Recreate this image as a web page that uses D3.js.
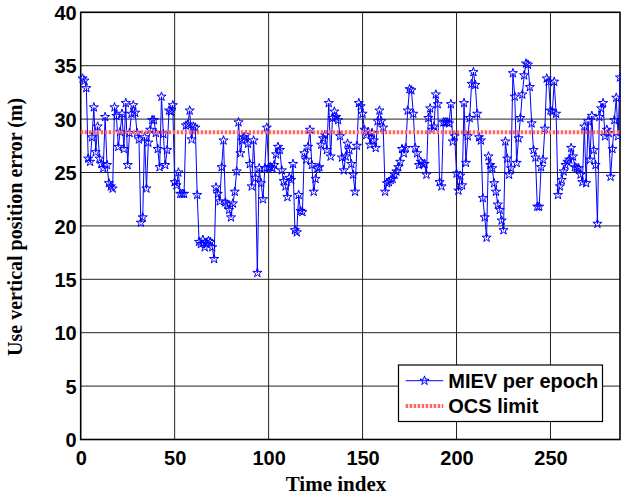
<!DOCTYPE html>
<html><head><meta charset="utf-8">
<script src="https://cdn.jsdelivr.net/npm/d3@7"></script>
<style>body{margin:0;background:#fff}svg{display:block}</style>
</head><body>
<svg id="c" width="621" height="497"></svg>
<script>
const xTicks = [0, 50, 100, 150, 200, 250];
const yTicks = [0, 5, 10, 15, 20, 25, 30, 35, 40];
const ocsLimit = 28.76;
const seriesNames = ["MIEV per epoch", "OCS limit"];
const miev = [
33.8,33.6,32.9,26.3,26.0,28.3,31.1,26.9,29.3,26.3,25.8,25.4,30.2,25.7,24.0,23.7,23.5,31.1,30.3,27.4,
28.8,30.5,27.2,31.5,25.7,28.7,30.5,31.3,30.6,28.7,28.1,20.3,20.8,
28.3,23.5,27.8,29.0,29.9,29.9,28.7,27.2,25.5,32.1,28.6,25.7,27.1,30.8,30.7,31.3,24.1,23.8,25.0,23.0,
23.0,23.0,29.4,29.5,30.8,28.1,29.3,29.2,22.9,18.5,18.3,18.7,
18.0,18.3,18.6,18.5,18.0,16.9,23.6,23.0,22.3,25.5,28.0,22.2,22.0,21.5,20.8,22.1,23.2,25.1,29.7,26.8,
28.0,28.3,28.5,27.7,25.8,23.7,28.0,24.5,15.6,25.4,24.0,22.5,25.4,29.2,25.5,25.5,
25.4,25.7,26.7,27.4,27.1,25.2,24.2,23.7,22.7,24.5,24.3,25.8,19.6,19.4,22.9,21.4,21.3,26.8,26.2,27.4,
29.0,25.7,23.2,24.4,25.4,25.5,27.6,28.2,28.5,27.1,31.5,26.5,30.1,30.7,
30.2,29.9,28.4,26.4,25.2,26.5,27.7,27.1,25.8,24.8,23.2,27.5,31.5,31.2,30.5,29.0,28.5,28.8,27.6,28.7,
28.0,27.3,29.8,30.8,29.8,29.2,23.2,24.0,24.1,24.3,24.4,24.8,25.1,25.5,
26.0,27.2,26.8,27.3,30.8,32.8,32.7,30.5,27.3,26.8,25.7,26.0,25.8,25.8,24.8,30.1,31.0,29.0,29.3,32.3,
31.4,24.1,23.7,29.7,29.7,29.7,29.6,31.4,27.9,28.4,24.9,23.3,
24.7,23.8,31.5,25.9,28.4,30.1,33.3,34.4,33.2,30.5,28.3,28.0,22.6,20.8,18.9,26.5,25.7,25.4,24.0,23.2,
22.0,21.5,20.5,19.6,27.9,26.3,24.8,25.4,34.3,32.1,25.9,28.2,30.1,32.3,
34.1,35.2,35.1,33.0,29.6,27.1,26.4,21.8,21.8,25.5,26.2,29.1,33.8,33.5,30.8,30.7,33.5,30.5,22.9,23.7,
24.3,25.1,25.7,26.0,26.2,27.3,26.5,25.5,25.4,25.4,24.8,24.1,29.3,
24.0,29.8,26.2,30.3,27.1,25.7,20.2,30.2,31.0,31.5,28.4,29.0,28.7,24.6,27.2,29.9,32.0,28.4,33.9
];

const svg = d3.select("#c");
const L = 80.7, R = 620, T = 12.3, B = 439.5;
const x = d3.scaleLinear().domain([0, 287]).range([L, R]);
const y = d3.scaleLinear().domain([0, 40]).range([B, T]);

// grid
const g = svg.append("g");
g.selectAll(".gx").data(xTicks.slice(1)).join("line")
  .attr("x1", d => x(d)).attr("x2", d => x(d)).attr("y1", T).attr("y2", B)
  .attr("stroke", "#222").attr("stroke-width", 1);
g.selectAll(".gy").data(yTicks.slice(1, -1)).join("line")
  .attr("x1", L).attr("x2", R).attr("y1", d => y(d)).attr("y2", d => y(d))
  .attr("stroke", "#222").attr("stroke-width", 1);

// box
svg.append("rect").attr("x", L).attr("y", T).attr("width", R - L).attr("height", B - T)
  .attr("fill", "none").attr("stroke", "#000").attr("stroke-width", 1.6);

// axes labels
const xa = d3.axisBottom(x).tickValues(xTicks).tickSize(0).tickPadding(0);
const gxA = svg.append("g").attr("transform", `translate(0,${B})`).call(xa);
gxA.select(".domain").remove();
gxA.selectAll("text").attr("y", 25).attr("dy", 0)
  .attr("font-family", "Liberation Sans, Arial, sans-serif").attr("font-weight", "bold")
  .attr("font-size", 20).attr("fill", "#000");

const ya = d3.axisLeft(y).tickValues(yTicks).tickSize(0).tickPadding(4);
const gyA = svg.append("g").attr("transform", `translate(${L},0)`).call(ya);
gyA.select(".domain").remove();
gyA.selectAll("text").attr("dy", "0.36em")
  .attr("font-family", "Liberation Sans, Arial, sans-serif").attr("font-weight", "bold")
  .attr("font-size", 20).attr("fill", "#000");

// series line
const line = d3.line().x((d, i) => x(i + 1)).y(d => y(d));
svg.append("path").datum(miev).attr("d", line)
  .attr("fill", "none").attr("stroke", "#0000ff").attr("stroke-width", 1);
const star = d3.symbol().type(d3.symbolStar).size(26);
svg.append("g").selectAll("path").data(miev).join("path")
  .attr("d", star)
  .attr("transform", (d, i) => `translate(${x(i + 1)},${y(d)})`)
  .attr("fill", "none").attr("stroke", "#0000ff").attr("stroke-width", 1);

// OCS limit
svg.append("line").attr("x1", L).attr("x2", R).attr("y1", y(ocsLimit)).attr("y2", y(ocsLimit))
  .attr("stroke", "#ff6464").attr("stroke-width", 4).attr("stroke-dasharray", "2.5,1.5");

// axis titles
svg.append("text").attr("x", 336).attr("y", 491).attr("text-anchor", "middle")
  .attr("font-family", "Liberation Serif, Times New Roman, serif").attr("font-weight", "bold")
  .attr("font-size", 21).text("Time index");
svg.append("text").attr("transform", `translate(22,${(T + B) / 2 + 1}) rotate(-90)`)
  .attr("text-anchor", "middle")
  .attr("font-family", "Liberation Serif, Times New Roman, serif").attr("font-weight", "bold")
  .attr("font-size", 20).text("Use vertical position error (m)");

// legend
const lg = svg.append("g");
lg.append("rect").attr("x", 398.5).attr("y", 365).attr("width", 204).attr("height", 56.5)
  .attr("fill", "#fff").attr("stroke", "#000").attr("stroke-width", 1.2);
const rows = [380.7, 406];
lg.append("line").attr("x1", 405.7).attr("x2", 443.3).attr("y1", rows[0]).attr("y2", rows[0])
  .attr("stroke", "#0000ff").attr("stroke-width", 1);
lg.append("path").attr("d", star).attr("transform", `translate(424.5,${rows[0]})`)
  .attr("fill", "none").attr("stroke", "#0000ff").attr("stroke-width", 1);
lg.append("line").attr("x1", 405.7).attr("x2", 443.3).attr("y1", rows[1]).attr("y2", rows[1])
  .attr("stroke", "#ff6464").attr("stroke-width", 4).attr("stroke-dasharray", "2.5,1.5");
lg.selectAll("text").data(seriesNames).join("text")
  .attr("x", 448.3).attr("y", (d, i) => rows[i]).attr("dy", "0.36em")
  .attr("font-family", "Liberation Sans, Arial, sans-serif").attr("font-weight", "bold")
  .attr("font-size", 20).text(d => d);
</script>
</body></html>
